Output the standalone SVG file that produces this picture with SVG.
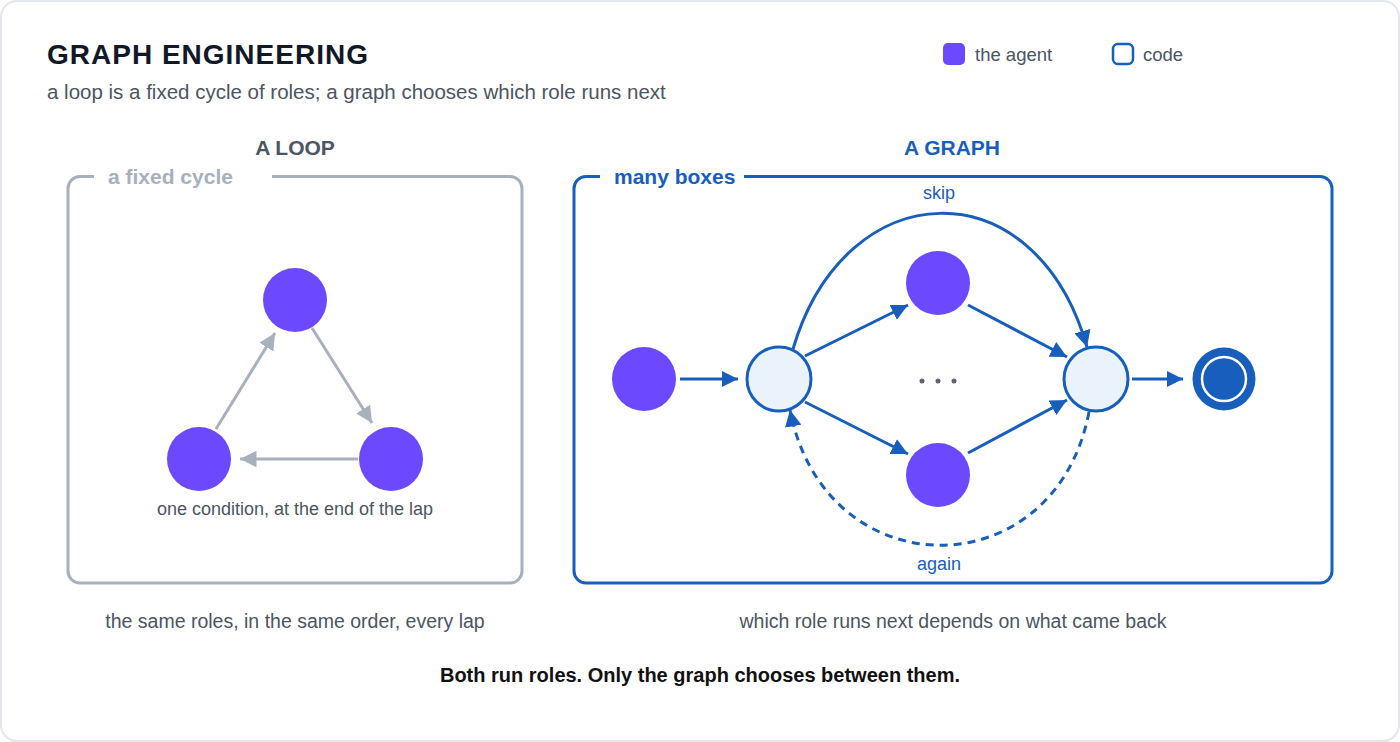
<svg xmlns="http://www.w3.org/2000/svg" width="1400" height="742" viewBox="0 0 1400 742">
<style>
.t{font-family:"Liberation Sans",Arial,sans-serif}
.b{font-weight:bold}
.agent{fill:#6c48ff}
.code{fill:#eaf2fc;stroke:#175ebd;stroke-width:3}
.gl{stroke:#a7b0bd;stroke-width:3;fill:none}
.bl{stroke:#175ebd;stroke-width:3;fill:none}
.muted{fill:#4b5563}
</style>
<defs>
<marker id="ag" viewBox="0 0 10 10" refX="10" refY="5" markerWidth="5.5" markerHeight="5.5" orient="auto" markerUnits="strokeWidth"><path d="M0,0 L10,5 L0,10 z" fill="#a7b0bd"/></marker>
<marker id="ab" viewBox="0 0 10 10" refX="10" refY="5" markerWidth="5.5" markerHeight="5.5" orient="auto" markerUnits="strokeWidth"><path d="M0,0 L10,5 L0,10 z" fill="#175ebd"/></marker>
</defs>
<rect x="1" y="1" width="1398" height="740" rx="16" fill="#ffffff" stroke="#e3e6eb" stroke-width="2"/>
<g id="header">
<text class="t b" x="47" y="64" font-size="28" letter-spacing="1" fill="#111827">GRAPH ENGINEERING</text>
<text class="t muted" x="47" y="99" font-size="20.5">a loop is a fixed cycle of roles; a graph chooses which role runs next</text>
</g>
<g id="legend">
<rect x="943" y="43" width="22" height="22" rx="5" class="agent"/>
<text class="t muted" x="975" y="61" font-size="18.5">the agent</text>
<rect x="1113" y="44" width="20" height="20" rx="5" fill="#fff" stroke="#175ebd" stroke-width="2.5"/>
<text class="t muted" x="1143" y="61" font-size="18.5">code</text>
</g>
<g id="loop-panel">
<text class="t b" x="295" y="155" font-size="21" text-anchor="middle" fill="#4b5563">A LOOP</text>
<path d="M94 176.5 H80 A12 12 0 0 0 68 188.5 V571 A12 12 0 0 0 80 583 H510 A12 12 0 0 0 522 571 V188.5 A12 12 0 0 0 510 176.5 H272" class="gl"/>
<text class="t b" x="108" y="184" font-size="21" fill="#a7b0bd">a fixed cycle</text>
<text class="t muted" x="295" y="515" font-size="18" text-anchor="middle">one condition, at the end of the lap</text>
<text class="t muted" x="295" y="628" font-size="19.5" text-anchor="middle">the same roles, in the same order, every lap</text>
</g>
<g id="loop-connectors">
<line x1="216" y1="429" x2="275" y2="333" class="gl" marker-end="url(#ag)"/>
<line x1="312" y1="328" x2="372" y2="423" class="gl" marker-end="url(#ag)"/>
<line x1="358" y1="459" x2="240" y2="459" class="gl" marker-end="url(#ag)"/>
</g>
<g id="loop-top"><circle cx="295" cy="300" r="32" class="agent"/></g>
<g id="loop-left"><circle cx="199" cy="459" r="32" class="agent"/></g>
<g id="loop-right"><circle cx="391" cy="459" r="32" class="agent"/></g>
<g id="graph-panel">
<text class="t b" x="952" y="155" font-size="21" text-anchor="middle" fill="#175ebd">A GRAPH</text>
<path d="M600 176.5 H586 A12 12 0 0 0 574 188.5 V571 A12 12 0 0 0 586 583 H1320 A12 12 0 0 0 1332 571 V188.5 A12 12 0 0 0 1320 176.5 H744" class="bl"/>
<text class="t b" x="614" y="184" font-size="21" fill="#175ebd">many boxes</text>
<text class="t muted" x="953" y="628" font-size="19.5" text-anchor="middle">which role runs next depends on what came back</text>
</g>
<g id="graph-connectors">
<line x1="680" y1="379" x2="738" y2="379" class="bl" marker-end="url(#ab)"/>
<line x1="805" y1="356" x2="908" y2="305" class="bl" marker-end="url(#ab)"/>
<line x1="805" y1="402" x2="908" y2="454" class="bl" marker-end="url(#ab)"/>
<line x1="968" y1="305" x2="1067" y2="357" class="bl" marker-end="url(#ab)"/>
<line x1="968" y1="453" x2="1067" y2="400" class="bl" marker-end="url(#ab)"/>
<line x1="1132" y1="379" x2="1183" y2="379" class="bl" marker-end="url(#ab)"/>
<path d="M793 349 C845 172 1035 165 1087 347" class="bl" marker-end="url(#ab)"/>
<path d="M1089 412 C1055 590 825 590 790 410" class="bl" stroke-dasharray="8 6" marker-end="url(#ab)"/>
<text class="t" x="939" y="199" font-size="18" text-anchor="middle" fill="#175ebd">skip</text>
<text class="t" x="939" y="570" font-size="18" text-anchor="middle" fill="#175ebd">again</text>
</g>
<g id="g-start"><circle cx="644" cy="379" r="32" class="agent"/></g>
<g id="g-decide"><circle cx="779" cy="379" r="32" class="code"/></g>
<g id="g-upper"><circle cx="938" cy="283" r="32" class="agent"/></g>
<g id="g-dots">
<circle cx="922" cy="381" r="2.5" fill="#5b6472"/><circle cx="938" cy="381" r="2.5" fill="#5b6472"/><circle cx="954" cy="381" r="2.5" fill="#5b6472"/>
</g>
<g id="g-lower"><circle cx="938" cy="475" r="32" class="agent"/></g>
<g id="g-merge"><circle cx="1096" cy="379" r="32" class="code"/></g>
<g id="g-end">
<circle cx="1224" cy="379" r="31.5" fill="#175ebd"/>
<circle cx="1224" cy="379" r="22" fill="#175ebd" stroke="#ffffff" stroke-width="2.5"/>
</g>
<g id="footer">
<text class="t b" x="700" y="682" font-size="20" text-anchor="middle" fill="#111111">Both run roles. Only the graph chooses between them.</text>
</g>
</svg>
